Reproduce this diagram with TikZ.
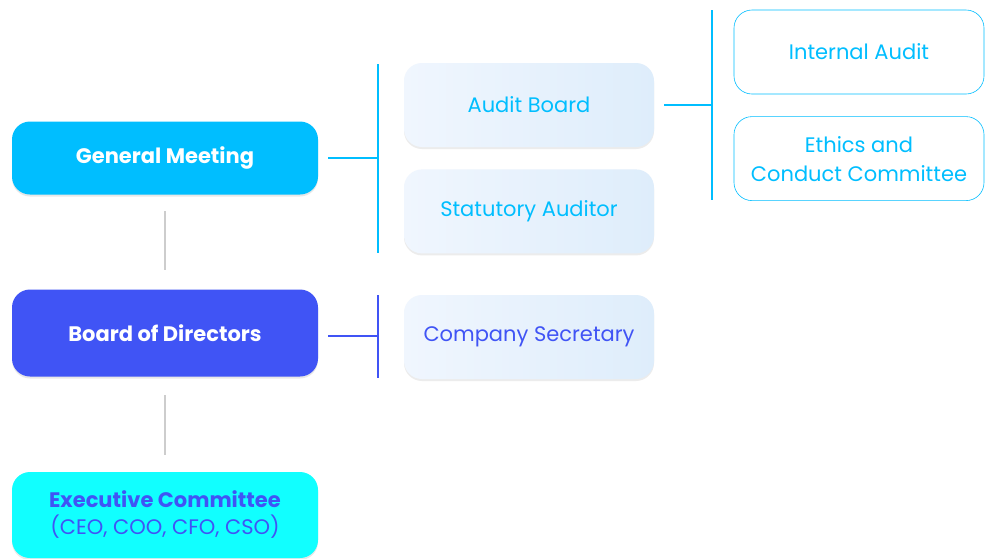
\documentclass[tikz,border=0pt]{standalone}
\usepackage{fontspec}
\setmainfont{Poppins}
\usetikzlibrary{positioning,shadows}
\definecolor{gmblue}{RGB}{0,190,255}
\definecolor{bodblue}{RGB}{64,84,245}
\definecolor{excyan}{RGB}{17,255,255}
\definecolor{paleL}{RGB}{240,246,254}
\definecolor{paleR}{RGB}{222,237,251}
\definecolor{stem}{RGB}{205,205,205}
\tikzset{
  x=1pt,y=-1pt,
  lead/.style={rounded corners=18pt,minimum width=306pt,align=center,font=\fontsize{21}{27}\selectfont\bfseries,
    drop shadow={opacity=0.18,shadow xshift=0pt,shadow yshift=-2pt}},
  sub/.style={rounded corners=18pt,minimum width=250pt,minimum height=84pt,align=center,
    font=\fontsize{21}{29}\selectfont,left color=paleL,right color=paleR,
    drop shadow={opacity=0.15,shadow xshift=0pt,shadow yshift=-2pt}},
  outline/.style={draw=gmblue,semithick,rounded corners=18pt,minimum width=250pt,minimum height=84pt,
    align=center,font=\fontsize{21}{29}\selectfont,text=gmblue,fill=white},
  link/.style={line width=1.2pt},
}
\begin{document}
\begin{tikzpicture}
  \useasboundingbox[fill=white] (0,0) rectangle (993,558);
  % left column
  \node[lead,fill=gmblue,text=white,minimum height=73pt] (gm) at (165,158) {General Meeting};
  \node[lead,fill=bodblue,text=white,minimum height=87pt] (bod) at (165,333) {Board of Directors};
  \node[lead,fill=excyan,text=bodblue,minimum height=86pt] (exec) at (165,515)
    {Executive Committee\\{\mdseries (CEO, COO, CFO, CSO)}};
  \coordinate (s1) at (165,211); \coordinate (s2) at (165,270);
  \coordinate (s3) at (165,395); \coordinate (s4) at (165,455);
  \draw[stem,link] (s1) -- (s2);
  \draw[stem,link] (s3) -- (s4);
  % second column
  \node[sub,text=gmblue] (audit) at (529,105) {Audit Board};
  \node[sub,text=gmblue,below=22pt of audit] (stat) {Statutory Auditor};
  \node[sub,text=bodblue] (secr) at (529,337) {Company Secretary};
  % third column
  \node[outline] (internal) at (859,52) {Internal Audit};
  \node[outline,below=22pt of internal] (ethics) {Ethics and\\Conduct Committee};
  % connectors
  \coordinate (gmj) at (378,158);
  \draw[gmblue,link] ([xshift=10pt]gm.east) -- (gmj);
  \draw[gmblue,link] (378,64) -- (378,253);
  \coordinate (auj) at (712,105);
  \draw[gmblue,link] ([xshift=10pt]audit.east) -- (auj);
  \draw[gmblue,link] (712,10) -- (712,200);
  \coordinate (bodj) at (378,336);
  \draw[bodblue,link] ([xshift=10pt]bod.east |- bodj) -- (bodj);
  \draw[bodblue,link] (378,295) -- (378,378);
\end{tikzpicture}
\end{document}
